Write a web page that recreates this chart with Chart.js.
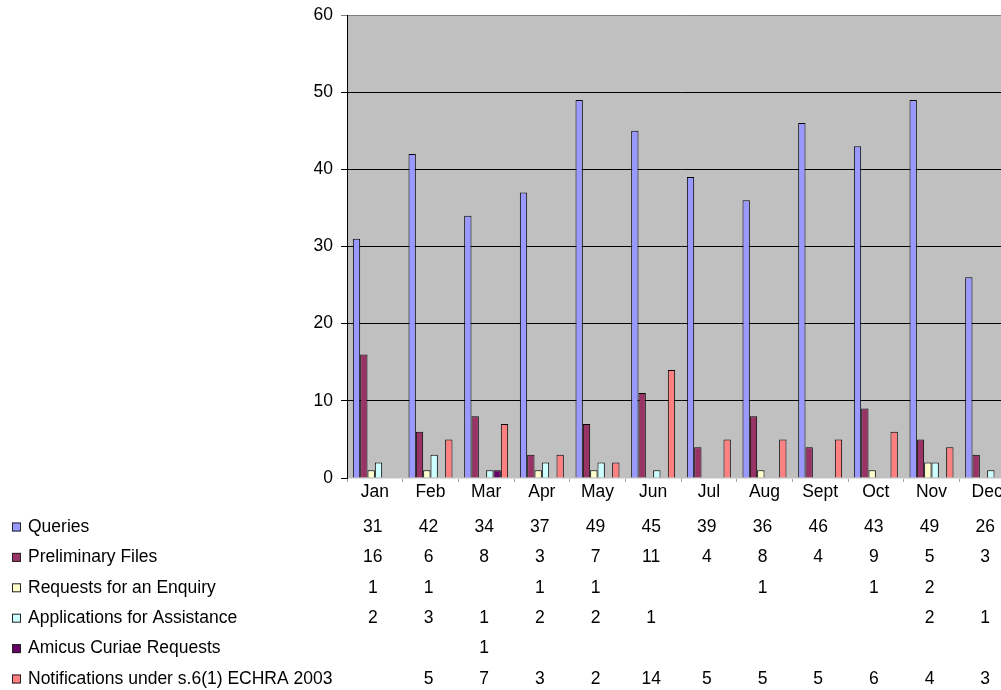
<!DOCTYPE html>
<html>
<head>
<meta charset="utf-8">
<script src="https://cdn.jsdelivr.net/npm/chart.js@4.4.0/dist/chart.umd.min.js"></script>
<style>
  html, body { margin: 0; padding: 0; background: #fff; overflow: hidden; }
  #wrap { width: 1015px; height: 690px; }
</style>
</head>
<body>
<div id="wrap"><canvas id="myBarChart" width="1015" height="690"></canvas></div>
<script>
// months along the bottom
var months = ['Jan','Feb','Mar','Apr','May','Jun','Jul','Aug','Sept','Oct','Nov','Dec'];

// one array per series (null = blank cell in the table)
var queries       = [31, 42, 34, 37, 49, 45, 39, 36, 46, 43, 49, 26];
var prelimFiles   = [16, 6, 8, 3, 7, 11, 4, 8, 4, 9, 5, 3];
var enquiryReqs   = [1, 1, null, 1, 1, null, null, 1, null, 1, 2, null];
var assistApps    = [2, 3, 1, 2, 2, 1, null, null, null, null, 2, 1];
var amicusReqs    = [null, null, 1, null, null, null, null, null, null, null, null, null];
var notifications = [null, 5, 7, 3, 2, 14, 5, 5, 5, 6, 4, 3];

var yTicks = [0, 10, 20, 30, 40, 50, 60];

var seriesNames = ['Queries', 'Preliminary Files', 'Requests for an Enquiry',
                   'Applications for Assistance', 'Amicus Curiae Requests',
                   'Notifications under s.6(1) ECHRA 2003'];
var seriesData = [queries, prelimFiles, enquiryReqs, assistApps, amicusReqs, notifications];
var seriesColors = ['#9999FF', '#993366', '#FFFFCC', '#CCFFFF', '#660066', '#FF8080'];

var FONT = 'Arial, "Liberation Sans", sans-serif';
var FSIZE = 17.5;

var datasets = [];
for (var i in seriesNames) {
    datasets.push({
        label: seriesNames[i],
        data: seriesData[i],
        backgroundColor: seriesColors[i],
        borderColor: '#000000',
        borderWidth: 1,
        borderSkipped: 'bottom'
    });
}

// grey plot area
var plotBg = {
    id: 'plotBg',
    beforeDraw: function(chart) {
        var a = chart.chartArea, c = chart.ctx;
        c.save();
        c.fillStyle = '#C0C0C0';
        c.fillRect(a.left, a.top, a.right - a.left, a.bottom - a.top);
        c.restore();
    }
};

// legend keys + data table under the axis
var dataTable = {
    id: 'dataTable',
    afterDraw: function(chart) {
        var c = chart.ctx, x = chart.scales.x;
        c.save();
        c.font = FSIZE + 'px ' + FONT;
        c.textBaseline = 'middle';
        for (var i = 0; i < seriesNames.length; i++) {
            var y = 527 + i * 30.4;
            c.fillStyle = seriesColors[i];
            c.fillRect(12, y - 4.5, 9, 9);
            c.strokeStyle = '#222';
            c.lineWidth = 1;
            c.strokeRect(12.5, y - 4, 8, 8);
            c.fillStyle = '#000';
            c.textAlign = 'left';
            c.fillText(seriesNames[i], 28, y);
            c.textAlign = 'center';
            for (var j = 0; j < months.length; j++) {
                var v = seriesData[i][j];
                if (v === null) continue;
                c.fillText(String(v), x.getPixelForValue(j) - 2, y);
            }
        }
        c.restore();
    }
};

var ctx = document.getElementById('myBarChart');
var barGraph = new Chart(ctx, {
    type: 'bar',
    data: { labels: months, datasets: datasets },
    plugins: [plotBg, dataTable],
    options: {
        responsive: false,
        animation: false,
        devicePixelRatio: 1,
        layout: { padding: { left: 0, right: 0, top: 15, bottom: 182 } },
        plugins: { legend: { display: false }, tooltip: { enabled: false } },
        datasets: { bar: { categoryPercentage: 0.79, barPercentage: 1.0 } },
        scales: {
            x: {
                offset: true,
                grid: { display: true, drawOnChartArea: false, offset: true,
                        color: '#A0A0A0', tickLength: 4 },
                border: { color: '#E0E0E0' },
                ticks: { color: '#000', font: { family: FONT, size: FSIZE }, padding: 0,
                         maxRotation: 0, autoSkip: false },
                afterFit: function(s) { s.height = 30; }
            },
            y: {
                min: 0, max: 60,
                afterBuildTicks: function(s) {
                    s.ticks = yTicks.map(function(v) { return { value: v }; });
                },
                grid: {
                    color: function(c) { return c.tick && c.tick.value === 60 ? '#808080' : '#000'; },
                    lineWidth: 1, tickLength: 6
                },
                border: { color: '#000' },
                ticks: { color: '#000', font: { family: FONT, size: FSIZE, lineHeight: 0.6 }, padding: 8 },
                afterFit: function(s) { s.width = 347; }
            }
        }
    }
});
</script>
</body>
</html>
